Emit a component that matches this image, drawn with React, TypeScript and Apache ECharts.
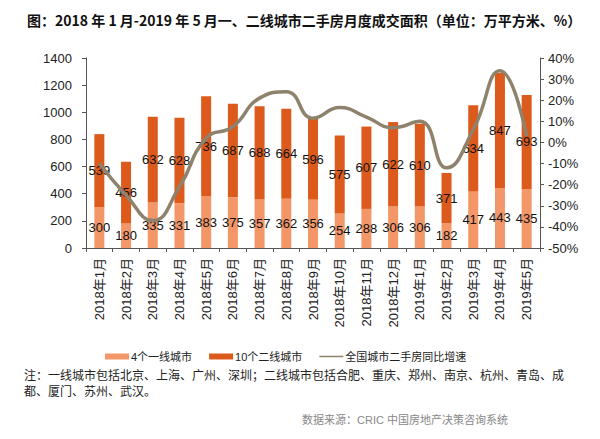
import React, { useEffect, useRef } from "react";
import * as echarts from "echarts";

const categories = [
  "2018年1月", "2018年2月", "2018年3月", "2018年4月", "2018年5月", "2018年6月",
  "2018年7月", "2018年8月", "2018年9月", "2018年10月", "2018年11月", "2018年12月",
  "2019年1月", "2019年2月", "2019年3月", "2019年4月", "2019年5月",
];
const tier1 = [300, 180, 335, 331, 383, 375, 357, 362, 356, 254, 288, 306, 306, 182, 417, 443, 435];
const tier2 = [539, 456, 632, 628, 736, 687, 688, 664, 596, 575, 607, 622, 610, 371, 634, 847, 693];
const growth = [-10, -25, -37, -21, 2, 7.5, 21, 24, 11.5, 16.5, 12, 7, 10, -12, 6, 34, 3];

const titleText = "图：2018 年 1 月-2019 年 5 月一、二线城市二手房月度成交面积（单位：万平方米、%）";
const noteLine1 = "注：一线城市包括北京、上海、广州、深圳；二线城市包括合肥、重庆、郑州、南京、杭州、青岛、成";
const noteLine2 = "都、厦门、苏州、武汉。";
const sourceText = "数据来源：CRIC 中国房地产决策咨询系统";

const FONT = "Arial, 'Liberation Sans', 'Noto Sans CJK SC', sans-serif";
const CJK = "'Noto Sans CJK SC', sans-serif";

export default function App() {
  const ref = useRef<HTMLDivElement>(null);
  useEffect(() => {
    const chart = echarts.init(ref.current!, undefined, { renderer: "svg" });
    const labelStyle = {
      show: true,
      position: "inside" as const,
      color: "#111",
      fontSize: 13,
      fontFamily: FONT,
    };
    chart.setOption({
      animation: false,
      backgroundColor: "#fff",
      title: {
        text: titleText,
        left: 22,
        top: 8,
        textStyle: { fontSize: 14, fontWeight: "bold", color: "#111", fontFamily: CJK },
      },
      grid: { left: 86, right: 60, top: 58, bottom: 191 },
      legend: {
        top: 346,
        left: 100,
        itemWidth: 24,
        itemHeight: 6,
        itemGap: 17,
        textStyle: { fontSize: 11, color: "#222", fontFamily: FONT, padding: [0, 0, 0, -3] },
        data: [
          { name: "4个一线城市", icon: "rect" },
          { name: "10个二线城市", icon: "rect" },
          {
            name: "全国城市二手房同比增速",
            icon: "path://M0 0H24V1.5H0Z",
            symbolKeepAspect: true,
            itemStyle: { color: "#8e826c" },
          },
        ],
      },
      xAxis: {
        type: "category",
        data: categories,
        axisLine: { lineStyle: { color: "#555" } },
        axisTick: { show: true, alignWithLabel: false, length: 4, lineStyle: { color: "#555" } },
        axisLabel: {
          rotate: 90,
          interval: 0,
          fontSize: 13,
          color: "#222",
          fontFamily: FONT,
          margin: 10,
        },
      },
      yAxis: [
        {
          type: "value",
          min: 0,
          max: 1400,
          interval: 200,
          splitLine: { show: false },
          axisLine: { show: true, lineStyle: { color: "#555" } },
          axisTick: { show: true, length: 4, lineStyle: { color: "#555" } },
          axisLabel: {
            fontSize: 13,
            color: "#222",
            fontFamily: FONT,
            margin: 14,
            formatter: (v: number) => String(v),
          },
        },
        {
          type: "value",
          min: -50,
          max: 40,
          interval: 10,
          splitLine: { show: false },
          axisLine: { show: true, lineStyle: { color: "#555" } },
          axisTick: { show: true, length: 4, lineStyle: { color: "#555" } },
          axisLabel: { fontSize: 13, color: "#222", fontFamily: FONT, margin: 8, formatter: "{value}%" },
        },
      ],
      series: [
        {
          name: "4个一线城市",
          type: "bar",
          stack: "total",
          barWidth: 10,
          data: tier1,
          itemStyle: { color: "#f39668" },
          label: labelStyle,
        },
        {
          name: "10个二线城市",
          type: "bar",
          stack: "total",
          barWidth: 10,
          data: tier2,
          itemStyle: { color: "#dc5a1c" },
          label: labelStyle,
        },
        {
          name: "全国城市二手房同比增速",
          type: "line",
          yAxisIndex: 1,
          data: growth,
          smooth: 0.5,
          symbol: "none",
          lineStyle: { color: "#8e826c", width: 3.5 },
          itemStyle: { color: "#8e826c" },
          z: 5,
        },
      ],
      graphic: [
        {
          type: "text",
          left: 24,
          top: 368,
          style: { text: noteLine1, fontSize: 12, fill: "#222", fontFamily: CJK },
        },
        {
          type: "text",
          left: 24,
          top: 384,
          style: { text: noteLine2, fontSize: 12, fill: "#222", fontFamily: CJK },
        },
        {
          type: "text",
          right: 92,
          top: 414,
          style: { text: sourceText, fontSize: 11, fill: "#888", fontFamily: FONT },
        },
      ],
    });
    return () => chart.dispose();
  }, []);
  return (
    <div
      ref={ref}
      style={{ position: "absolute", left: 0, top: 0, width: 600, height: 439 }}
    />
  );
}
